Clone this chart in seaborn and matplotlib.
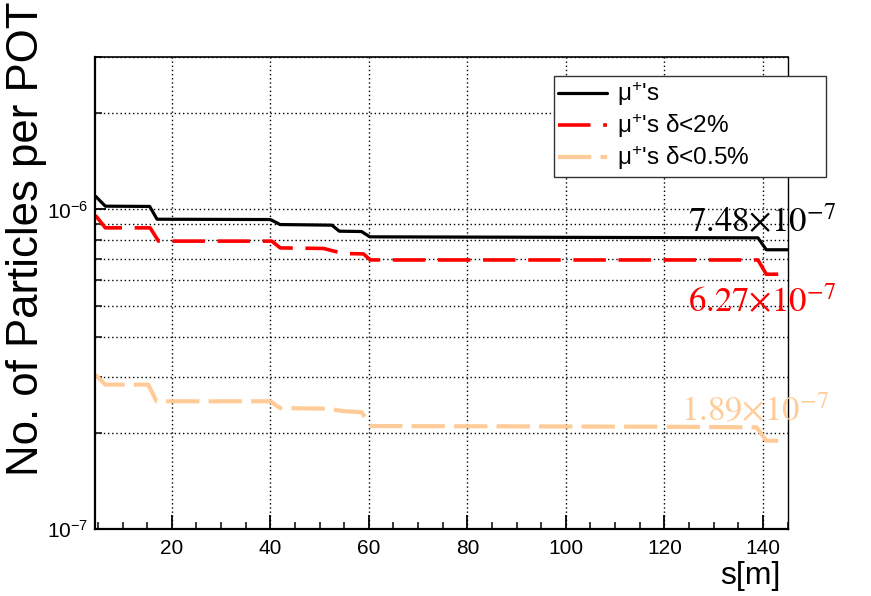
import matplotlib
matplotlib.use("Agg")
import matplotlib.pyplot as plt
from matplotlib.ticker import FixedLocator, MultipleLocator, NullFormatter
import seaborn as sns

# Muon yield per proton on target along the beamline
s_all = [4.5, 6.5, 15.5, 17.0, 40.0, 42.0, 52.5, 54.0, 58.5, 60.2, 139.0, 140.7, 145.0]
mu_all = [1.10e-6, 1.024e-6, 1.022e-6, 0.932e-6, 0.930e-6, 0.897e-6, 0.893e-6,
          0.855e-6, 0.853e-6, 0.821e-6, 0.815e-6, 0.748e-6, 0.748e-6]

s_d2 = [4.5, 6.5, 15.6, 17.3, 40.3, 42.0, 50.8, 54.8, 58.9, 60.3, 139.0, 140.7, 145.0]
mu_d2 = [0.958e-6, 0.876e-6, 0.876e-6, 0.796e-6, 0.796e-6, 0.758e-6, 0.755e-6,
         0.728e-6, 0.726e-6, 0.695e-6, 0.695e-6, 0.627e-6, 0.627e-6]

s_d05 = [4.5, 6.5, 15.2, 16.9, 40.0, 42.0, 52.0, 54.5, 58.5, 60.5, 120.0, 138.7, 140.7, 145.0]
mu_d05 = [0.304e-6, 0.283e-6, 0.283e-6, 0.251e-6, 0.251e-6, 0.239e-6, 0.238e-6,
          0.234e-6, 0.232e-6, 0.210e-6, 0.209e-6, 0.208e-6, 0.189e-6, 0.189e-6]

labels = ["\u03bc$^{+}$'s", "\u03bc$^{+}$'s \u03b4<2%", "\u03bc$^{+}$'s \u03b4<0.5%"]
colors = ["black", "#ff0000", "#ffcc99"]

x_major = [20, 40, 60, 80, 100, 120, 140]
y_labeled = [1e-7, 1e-6]
y_ticklabels = ["10$^{-7}$", "10$^{-6}$"]

sns.set_theme(style="white")
plt.rcParams["font.family"] = ["Liberation Sans", "DejaVu Sans"]
plt.rcParams["mathtext.fontset"] = "custom"
plt.rcParams["mathtext.rm"] = "Liberation Sans"
plt.rcParams["mathtext.it"] = "Liberation Sans:italic"
plt.rcParams["mathtext.bf"] = "Liberation Sans:bold"

fig = plt.figure(figsize=(8.71, 5.96), dpi=100)
fig.patch.set_facecolor("white")
ax = fig.add_axes([95 / 871, 1 - 529 / 596, (788 - 95) / 871, (529 - 57) / 596])
ax.set_facecolor("white")

sns.lineplot(x=s_all, y=mu_all, ax=ax, color=colors[0], lw=2.3, label=labels[0],
             sort=False, estimator=None)
sns.lineplot(x=s_d2, y=mu_d2, ax=ax, color=colors[1], lw=2.6, label=labels[1],
             sort=False, estimator=None, linestyle=(0, (9, 3.5)))
sns.lineplot(x=s_d05, y=mu_d05, ax=ax, color=colors[2], lw=3.0, label=labels[2],
             sort=False, estimator=None, linestyle=(0, (8, 2.2)))

ax.set_yscale("log")
ax.set_xlim(4.4, 145.1)
ax.set_ylim(1e-7, 3e-6)

ax.xaxis.set_major_locator(FixedLocator(x_major))
ax.xaxis.set_minor_locator(MultipleLocator(5))
ax.set_xticklabels([str(v) for v in x_major])

minor_y = [k * 1e-7 for k in range(2, 10)] + [2e-6, 3e-6]
ax.yaxis.set_major_locator(FixedLocator(y_labeled))
ax.yaxis.set_minor_locator(FixedLocator(minor_y))
ax.yaxis.set_minor_formatter(NullFormatter())
ax.set_yticklabels(y_ticklabels)

ax.tick_params(axis="both", which="both", bottom=True, left=True, top=False, right=False)
ax.tick_params(axis="x", which="major", direction="in", length=10, width=1.3,
               labelsize=15, pad=7, colors="black")
ax.tick_params(axis="x", which="minor", direction="in", length=5, width=1.3)
ax.tick_params(axis="y", which="major", direction="in", length=8, width=1.3,
               labelsize=15, pad=5, colors="black")
ax.tick_params(axis="y", which="minor", direction="in", length=5, width=1.3)

ax.grid(True, which="major", axis="x", ls=(0, (1, 2)), color="black", lw=1)
ax.grid(True, which="both", axis="y", ls=(0, (1, 2)), color="black", lw=1)

for side, w in [("left", 1.6), ("bottom", 1.6), ("right", 1.0), ("top", 1.2)]:
    ax.spines[side].set_color("black")
    ax.spines[side].set_linewidth(w)

ax.set_xlabel("")
ax.set_ylabel("")
fig.text(27 / 871, 1 - 1 / 596, "No. of Particles per POT", rotation=90,
         ha="center", va="top", fontsize=31.5, color="black")
fig.text(781 / 871, 1 - 591 / 596, "s[m]", ha="right", va="bottom",
         fontsize=23, color="black")

leg = ax.legend(loc="upper left", mode="expand",
                bbox_to_anchor=(554 / 871, 1 - 174 / 596, (826 - 554) / 871, (174 - 76) / 596),
                bbox_transform=fig.transFigure, fontsize=17.5, frameon=True,
                fancybox=False, shadow=False, borderaxespad=0, handlelength=2.0,
                handletextpad=0.42, labelspacing=0.17, borderpad=0.18)
leg.get_frame().set_edgecolor("#333333")
leg.get_frame().set_linewidth(1.0)
leg.get_frame().set_facecolor("white")
leg.get_frame().set_alpha(1)
for t in leg.get_texts():
    t.set_color("black")

# End-of-line values written beside each curve
end_vals = [mu_all[-1], mu_d2[-1], mu_d05[-1]]
label_pos = [(688, 232), (688, 312), (681, 420)]
for v, c, (px, py) in zip(end_vals, colors, label_pos):
    fig.text(px / 871, 1 - py / 596, rf"${v / 1e-7:.2f}{{\times}}10^{{-7}}$",
             math_fontfamily="stix", fontsize=25, color=c,
             ha="left", va="baseline")

fig.savefig("out.png", dpi=100)
